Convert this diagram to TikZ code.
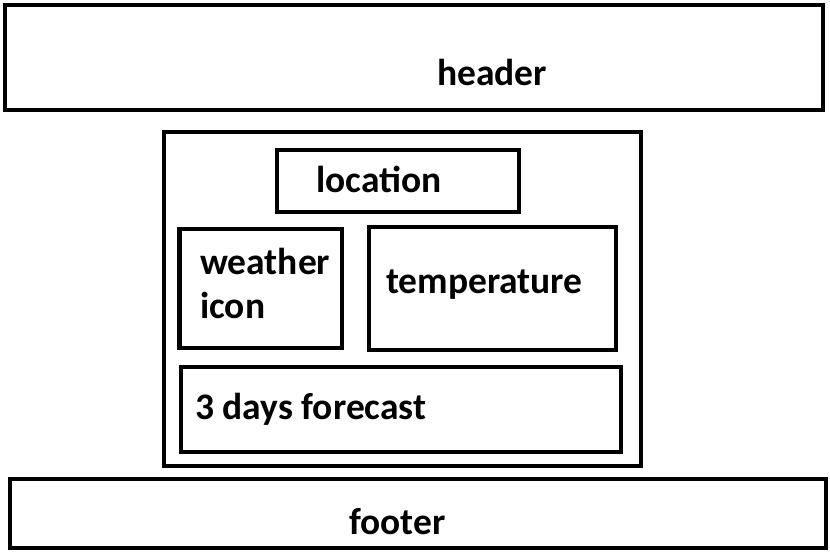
\documentclass[tikz,border=0pt]{standalone}
\usepackage{fontspec}
\setmainfont{Carlito}
\usepackage{tikz}
\usetikzlibrary{positioning}

\begin{document}
\begin{tikzpicture}[
    x=1pt, y=-1pt,
    box/.style={rectangle, draw, line width=4.5pt, inner sep=0pt},
    label/.style={anchor=base west, inner sep=0pt, font=\fontsize{37.5}{44}\selectfont\bfseries, align=left}
]
\useasboundingbox (0,0) rectangle (830,553);

% page areas
\node[box, minimum width=818pt, minimum height=105pt] (header) at (414,57.5) {};
\node[box, minimum width=816pt, minimum height=69pt] (footer) at (418,513.5) {};
\node[box, minimum width=477pt, minimum height=334pt] (main) at (402.5,299) {};

% widgets inside main
\node[box, minimum width=242pt, minimum height=62pt] (location) at (398,181) {};
\node[box, minimum width=162.5pt, minimum height=119pt] (icon) at (260.75,288.5) {};
\node[box, minimum width=247pt, minimum height=123pt] (temp) at (492.5,288.5) {};
\node[box, minimum width=440pt, minimum height=85pt] (forecast) at (401,409.5) {};

% texts
\node[label] (headertxt) at (437,86) {header};
\node[label] (locationtxt) at (316,193) {location};
\node[label] (icontxt) at (200,319) {weather\\icon};
\node[label] (temptxt) at (386,294) {temperature};
\node[label] (forecasttxt) at (195,419) {3 days forecast};
\node[label] (footertxt) at (349,534) {footer};
\end{tikzpicture}
\end{document}
